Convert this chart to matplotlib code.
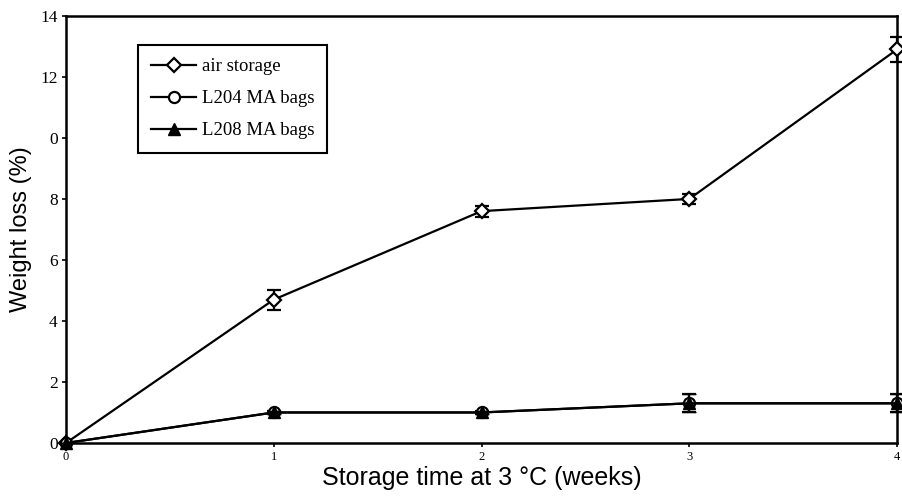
""" weight loss during storage at 3 C
"""
import matplotlib.pyplot as plt

weeks = [0, 1, 2, 3, 4]

air = [0, 4.7, 7.6, 8.0, 12.9]
air_err = [0, 0.33, 0.18, 0.15, 0.4]

l204 = [0, 1.0, 1.0, 1.3, 1.3]
l204_err = [0, 0.05, 0.05, 0.3, 0.3]

l208 = [0, 1.0, 1.0, 1.3, 1.3]
l208_err = [0, 0.05, 0.05, 0.3, 0.3]

y_ticks = [0, 2, 4, 6, 8, 10, 12, 14]
y_tick_labels = ['0', '2', '4', '6', '8', '0', '12', '14']

serif = 'Liberation Serif'
sans = 'Liberation Sans'

fig = plt.figure(figsize=(9.02, 4.97), dpi=100)
ax = fig.add_axes([0.0732, 0.1087, 0.9213, 0.8593])

common = dict(color='black', lw=1.6, capsize=5, elinewidth=1.6, capthick=1.6)

handles = []
e1 = ax.errorbar(weeks, air, yerr=air_err, marker='D', ms=7, mfc='white',
                 mec='black', mew=1.6, label='air storage', zorder=3, **common)
e2 = ax.errorbar(weeks, l204, yerr=l204_err, marker='o', ms=8, mfc='white',
                 mec='black', mew=1.6, label='L204 MA bags', zorder=4, **common)
e3 = ax.errorbar(weeks, l208, yerr=l208_err, marker='^', ms=8, mfc='black',
                 mec='black', mew=1, label='L208 MA bags', zorder=5, **common)

# let the markers at the right edge show in full
for e in (e1, e2, e3):
    e[0].set_clip_on(False)
    for c in e[1]:
        c.set_clip_on(False)
    for b in e[2]:
        b.set_clip_on(False)
    handles.append(e[0])

ax.set_xlim(0, 4)
ax.set_ylim(0, 14)
ax.set_xticks(weeks)
ax.set_xticklabels([str(w) for w in weeks], family=serif, fontsize=9)
ax.set_yticks(y_ticks)
ax.set_yticklabels(y_tick_labels, family=serif, fontsize=12.5)
ax.tick_params(direction='out', length=3, width=1.2, pad=3)

for s in ax.spines.values():
    s.set_linewidth(1.8)

ax.set_xlabel('Storage time at 3 \u00b0C (weeks)', family=sans, fontsize=18,
              labelpad=2)
ax.set_ylabel('Weight loss (%)', family=sans, fontsize=17, labelpad=6)

leg = ax.legend(handles, ['air storage', 'L204 MA bags', 'L208 MA bags'],
                loc='upper left', bbox_to_anchor=(0.0866, 0.932),
                borderaxespad=0, frameon=True, fancybox=False,
                prop={'family': serif, 'size': 13.5}, handlelength=2.4,
                handletextpad=0.3, labelspacing=0.8, borderpad=0.7,
                framealpha=1)
leg.get_frame().set_edgecolor('black')
leg.get_frame().set_linewidth(1.5)

fig.savefig('out.png', dpi=100)
